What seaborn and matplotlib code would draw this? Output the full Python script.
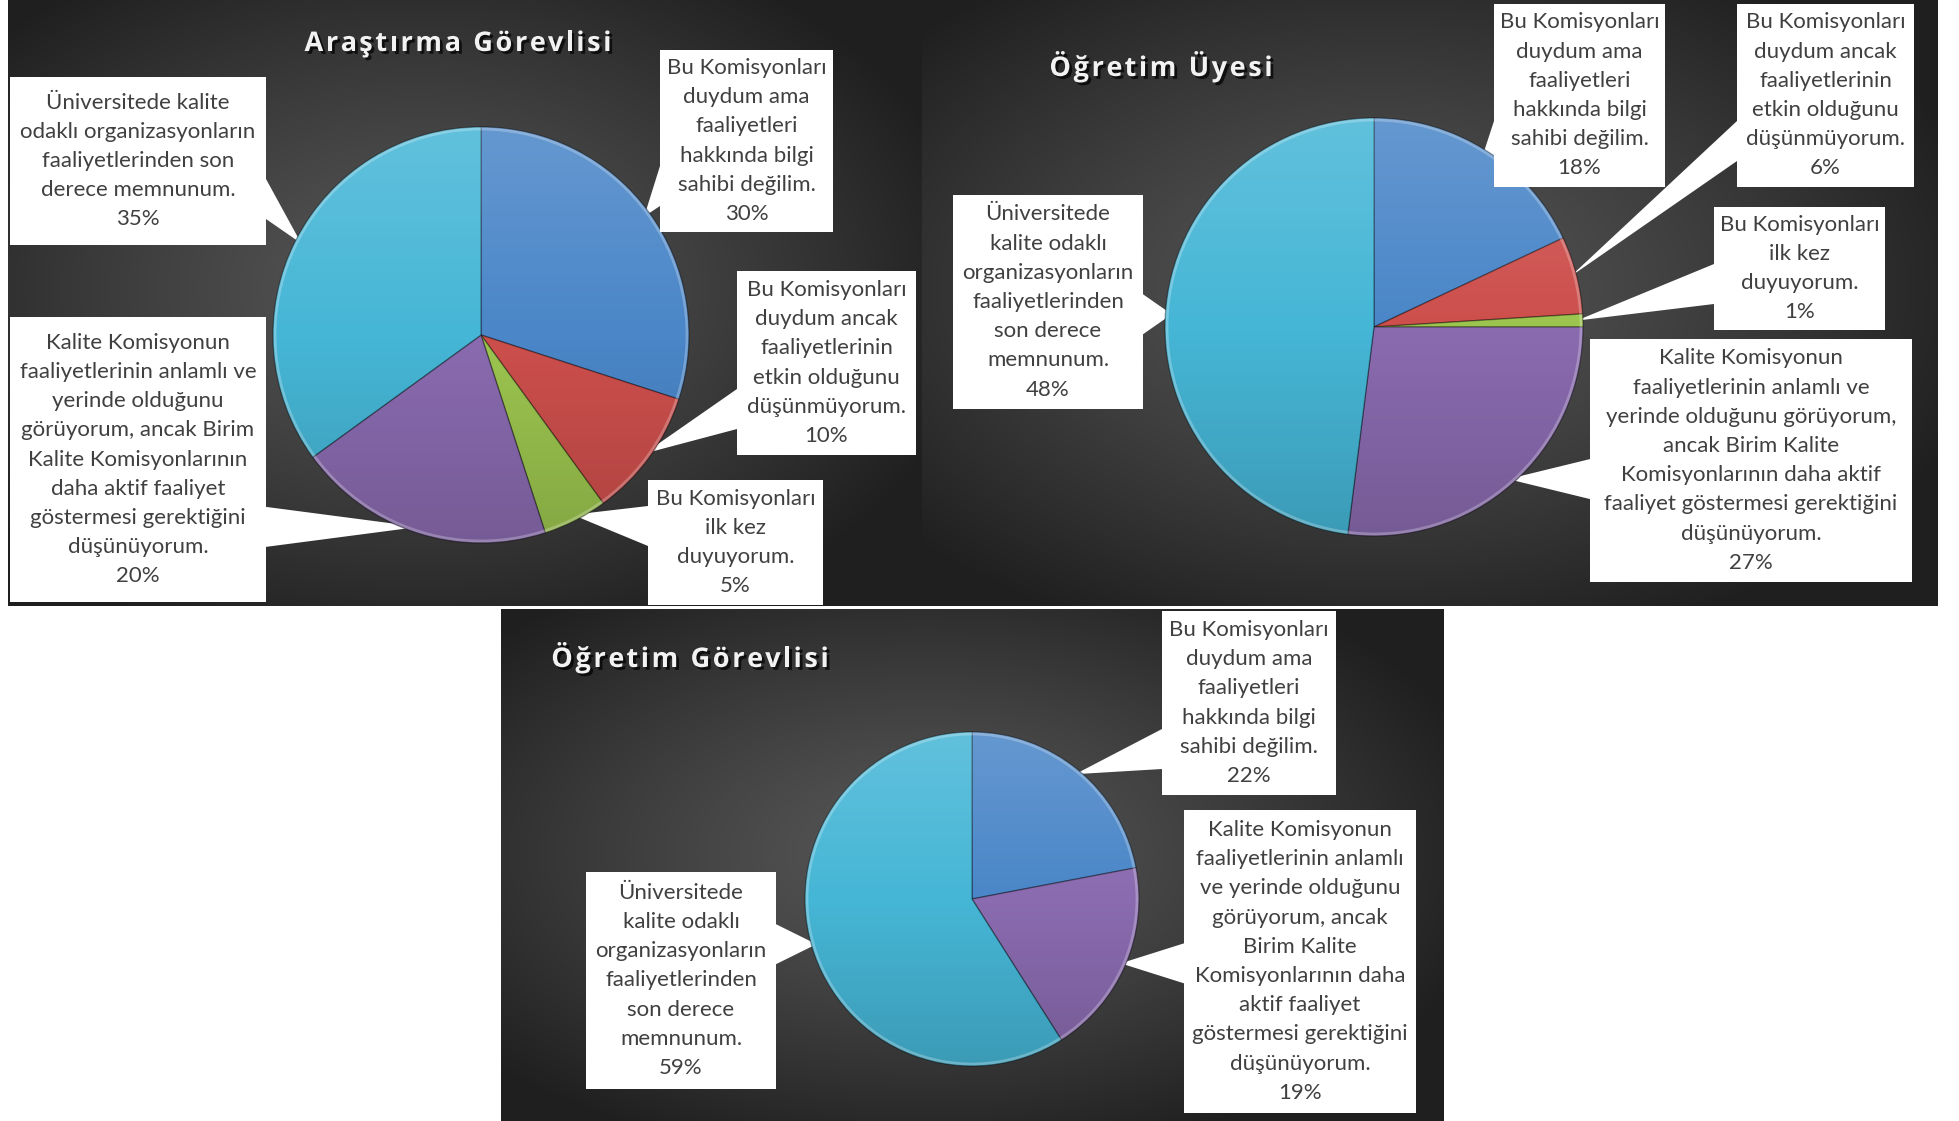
import numpy as np
import matplotlib
matplotlib.use("Agg")
import matplotlib.pyplot as plt
import matplotlib.patheffects as pe
from matplotlib.patches import Rectangle, Polygon, Circle
import seaborn as sns

# ===========================================================================
# DATA
# ===========================================================================
titles = ["Araştırma Görevlisi", "Öğretim Üyesi", "Öğretim Görevlisi"]

# Araştırma Görevlisi
ag_labels = [
    "Bu Komisyonları\nduydum ama\nfaaliyetleri\nhakkında bilgi\nsahibi değilim.",
    "Bu Komisyonları\nduydum ancak\nfaaliyetlerinin\netkin olduğunu\ndüşünmüyorum.",
    "Bu Komisyonları\nilk kez\nduyuyorum.",
    "Kalite Komisyonun\nfaaliyetlerinin anlamlı ve\nyerinde olduğunu\ngörüyorum, ancak Birim\n"
    "Kalite Komisyonlarının\ndaha aktif faaliyet\ngöstermesi gerektiğini\ndüşünüyorum.",
    "Üniversitede kalite\nodaklı organizasyonların\nfaaliyetlerinden son\nderece memnunum.",
]
ag_values = [30, 10, 5, 20, 35]

# Öğretim Üyesi
ou_labels = [
    "Bu Komisyonları\nduydum ama\nfaaliyetleri\nhakkında bilgi\nsahibi değilim.",
    "Bu Komisyonları\nduydum ancak\nfaaliyetlerinin\netkin olduğunu\ndüşünmüyorum.",
    "Bu Komisyonları\nilk kez\nduyuyorum.",
    "Kalite Komisyonun\nfaaliyetlerinin anlamlı ve\nyerinde olduğunu görüyorum,\nancak Birim Kalite\n"
    "Komisyonlarının daha aktif\nfaaliyet göstermesi gerektiğini\ndüşünüyorum.",
    "Üniversitede\nkalite odaklı\norganizasyonların\nfaaliyetlerinden\nson derece\nmemnunum.",
]
ou_values = [18, 6, 1, 27, 48]

# Öğretim Görevlisi
og_labels = [
    "Bu Komisyonları\nduydum ama\nfaaliyetleri\nhakkında bilgi\nsahibi değilim.",
    "Kalite Komisyonun\nfaaliyetlerinin anlamlı\nve yerinde olduğunu\ngörüyorum, ancak\nBirim Kalite\n"
    "Komisyonlarının daha\naktif faaliyet\ngöstermesi gerektiğini\ndüşünüyorum.",
    "Üniversitede\nkalite odaklı\norganizasyonların\nfaaliyetlerinden\nson derece\nmemnunum.",
]
og_values = [22, 19, 59]

palette = sns.color_palette(["#4a86c8", "#cd4f4c", "#9cc54f", "#8a6bb0", "#46b6d6"])
ag_colors = [palette[i] for i in [0, 1, 2, 3, 4]]
ou_colors = [palette[i] for i in [0, 1, 2, 3, 4]]
og_colors = [palette[i] for i in [0, 3, 4]]

# ===========================================================================
# LAYOUT (pixel coordinates, y downwards)
# ===========================================================================
W, H = 1959, 1121
panels = [
    dict(rect=(8, 0, 922, 606), center=(481, 335), r=208, title_xy=(458, 41),
         labels=ag_labels, values=ag_values, colors=ag_colors,
         boxes=[(660, 50, 833, 232), (737, 271, 916, 455), (648, 480, 823, 605),
                (10, 317, 266, 602), (10, 77, 266, 245)]),
    dict(rect=(922, 0, 1938, 606), center=(1374, 327), r=209, title_xy=(1161, 66),
         labels=ou_labels, values=ou_values, colors=ou_colors,
         boxes=[(1494, 4, 1665, 187), (1737, 4, 1914, 187), (1714, 207, 1885, 330),
                (1590, 339, 1912, 582), (953, 195, 1143, 409)]),
    dict(rect=(501, 609, 1444, 1121), center=(972, 899), r=167, title_xy=(690, 657),
         labels=og_labels, values=og_values, colors=og_colors,
         boxes=[(1162, 611, 1336, 795), (1184, 810, 1416, 1113), (586, 872, 776, 1089)]),
]

LINE = 29.2
TEXT_FONT = ["Lato", "DejaVu Sans"]
TITLE_FONT = ["Open Sans", "DejaVu Sans"]
TITLE_SPACING = 2.6

sns.set_theme(style="white")
plt.rcParams["font.family"] = TEXT_FONT

fig = plt.figure(figsize=(W / 100, H / 100), dpi=100)
fig.patch.set_facecolor("white")
ax = fig.add_axes([0, 0, 1, 1])
ax.set_xlim(0, W)
ax.set_ylim(H, 0)
renderer = fig.canvas.get_renderer()


def panel_bg(rect):
    x0, y0, x1, y1 = rect
    xx, yy = np.meshgrid(np.linspace(-1, 1, 400), np.linspace(-1, 1, 300))
    t = np.clip(np.sqrt((xx + 0.1) ** 2 + (yy + 0.05) ** 2) / 1.25, 0, 1) ** 1.2
    c0 = np.array([0x57, 0x57, 0x57]) / 255
    c1 = np.array([0x1f, 0x1f, 0x1f]) / 255
    img = c0 + (c1 - c0) * t[..., None]
    ax.imshow(img, extent=(x0, x1, y1, y0), origin="upper", aspect="auto",
              interpolation="bilinear", zorder=0)


def callout(box, tip, hw=20, m=46):
    x0, y0, x1, y1 = box
    tx, ty = tip
    if tx < x0 or tx > x1:
        ex = x0 if tx < x0 else x1
        c = np.clip(ty, y0 + m, y1 - m)
        base = [(ex, c - hw), (ex, c + hw)]
    else:
        ey = y0 if ty < y0 else y1
        c = np.clip(tx, x0 + m, x1 - m)
        base = [(c - hw, ey), (c + hw, ey)]
    ax.add_patch(Polygon([base[0], base[1], tip], closed=True, facecolor="white",
                         edgecolor="none", zorder=1.5))


def text_width(s, **kw):
    t = ax.text(0, 0, s, **kw)
    w = t.get_window_extent(renderer).width
    t.remove()
    return w


def spaced_title(x, y, s, spacing, **kw):
    # letter-spaced title, centred on (x, y)
    ref = text_width("I", **kw)
    offs = [0.0] + [text_width(s[:i] + "I", **kw) - ref for i in range(1, len(s))]
    total = offs[-1] + text_width(s[-1], **kw) + spacing * (len(s) - 1)
    start = x - total / 2
    for i, ch in enumerate(s):
        ax.text(start + offs[i] + i * spacing, y + 10, ch, ha="left", va="baseline",
                zorder=5, path_effects=[pe.withSimplePatchShadow(
                    offset=(2, -2), shadow_rgbFace="black", alpha=0.7)], **kw)


for p in panels:
    panel_bg(p["rect"])
    cx, cy = p["center"]
    r = p["r"]
    wedges, _ = ax.pie(p["values"], colors=p["colors"], center=(cx, cy), radius=r,
                       startangle=270, counterclock=True, frame=True,
                       wedgeprops=dict(edgecolor=(0, 0, 0, 0.35), linewidth=1.0, zorder=2))

    # soft shading on the pie
    g = np.linspace(0, 1, 256)[:, None]
    shade = np.zeros((256, 1, 4))
    shade[..., :3] = np.where(g[..., None] < 0.5, 1.0, 0.0)
    shade[..., 3] = np.abs(g - 0.5) * 0.3
    im = ax.imshow(shade, extent=(cx - r, cx + r, cy + r, cy - r), origin="upper",
                   aspect="auto", interpolation="bilinear", zorder=3)
    im.set_clip_path(Circle((cx, cy), r, transform=ax.transData))
    ax.add_patch(Circle((cx, cy), r - 2, fill=False, edgecolor=(1, 1, 1, 0.25),
                        linewidth=2, zorder=3))

    for w, label, val, box in zip(wedges, p["labels"], p["values"], p["boxes"]):
        mid = np.deg2rad((w.theta1 + w.theta2) / 2)
        tip = (cx + 0.97 * r * np.cos(mid), cy + 0.97 * r * np.sin(mid))
        callout(box, tip)
        x0, y0, x1, y1 = box
        ax.add_patch(Rectangle((x0, y0), x1 - x0, y1 - y0, facecolor="white",
                               edgecolor="none", zorder=4))
        lines = label.split("\n") + [f"{val}%"]
        ymid = (y0 + y1) / 2
        start = ymid - (len(lines) - 1) * LINE / 2
        for i, line in enumerate(lines):
            ax.text((x0 + x1) / 2, start + i * LINE, line, ha="center", va="center",
                    fontsize=16, color="#404040", family=TEXT_FONT, zorder=5)

ax.set_aspect("auto")
ax.set_xlim(0, W)
ax.set_ylim(H, 0)
ax.axis("off")

for p, title in zip(panels, titles):
    spaced_title(p["title_xy"][0], p["title_xy"][1], title, TITLE_SPACING,
                 fontsize=19.5, fontweight="bold", color="#f2f2f2", family=TITLE_FONT)

fig.savefig("out.png", dpi=100, facecolor="white")
